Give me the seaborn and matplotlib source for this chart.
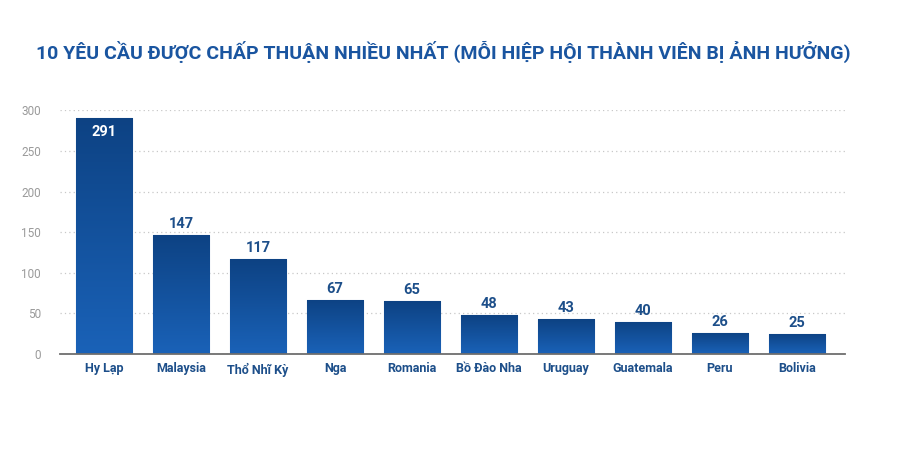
import numpy as np
import pandas as pd
import seaborn as sns
import matplotlib.pyplot as plt
from matplotlib.colors import LinearSegmentedColormap

# Data
countries = ["Hy Lạp", "Malaysia", "Thổ Nhĩ Kỳ", "Nga", "Romania",
             "Bồ Đào Nha", "Uruguay", "Guatemala", "Peru", "Bolivia"]
requests = [291, 147, 117, 67, 65, 48, 43, 40, 26, 25]
yticks = [0, 50, 100, 150, 200, 250, 300]
title = "10 YÊU CẦU ĐƯỢC CHẤP THUẬN NHIỀU NHẤT (MỖI HIỆP HỘI THÀNH VIÊN BỊ ẢNH HƯỞNG)"

df = pd.DataFrame({"country": countries, "requests": requests})

sns.set_theme(style="white")
plt.rcParams["font.family"] = ["Roboto", "DejaVu Sans"]

fig = plt.figure(figsize=(9, 4.51), dpi=100)
ax = fig.add_axes([0.067, 0.215, 0.872, 0.54])

sns.barplot(data=df, x="country", y="requests", color="#0f4f96", width=0.73,
            saturation=1, ax=ax, zorder=2)

# vertical gradient on each bar
cmap = LinearSegmentedColormap.from_list("bar", ["#1a62b8", "#0d4283"])
grad = np.linspace(0, 1, 256).reshape(-1, 1)
for p in ax.patches:
    x0, y0 = p.get_x(), p.get_y()
    w, h = p.get_width(), p.get_height()
    im = ax.imshow(grad, cmap=cmap, aspect="auto", origin="lower",
                   extent=(x0, x0 + w, y0, y0 + h), zorder=3)
    im.set_clip_path(p)
    p.set_edgecolor("#5d8cc6")
    p.set_linewidth(0.8)

# value labels
for i, v in enumerate(requests):
    if i == 0:
        ax.text(i, v - 9, str(v), ha="center", va="top", color="white",
                fontsize=10.5, fontweight="bold", zorder=4)
    else:
        ax.text(i, v + 5, str(v), ha="center", va="bottom", color="#1d4f8a",
                fontsize=10.5, fontweight="bold", zorder=4)

ax.set_xlim(-0.57, 9.63)
ax.set_ylim(0, 300)
ax.set_yticks(yticks)
ax.set_yticklabels([str(t) for t in yticks], color="#9a9a9a", fontsize=8.5)
ax.tick_params(axis="y", length=0, pad=14)
ax.tick_params(axis="x", length=0, pad=6)
for lbl in ax.get_xticklabels():
    lbl.set_color("#1d4f8a")
    lbl.set_fontweight("bold")
    lbl.set_fontsize(9)
ax.set_xlabel("")
ax.set_ylabel("")
ax.yaxis.grid(True, linestyle=(0, (1, 2.5)), color="#c8c8c8", linewidth=0.9)
ax.set_axisbelow(True)
for s in ["top", "right", "left"]:
    ax.spines[s].set_visible(False)
ax.spines["bottom"].set_color("#6e6e6e")
ax.spines["bottom"].set_linewidth(1.3)
ax.spines["bottom"].set_zorder(5)

fig.text(0.493, 0.885, title, ha="center", va="center", color="#1a55a0",
         fontsize=14, fontweight="bold")

fig.savefig("out.png", dpi=100)
